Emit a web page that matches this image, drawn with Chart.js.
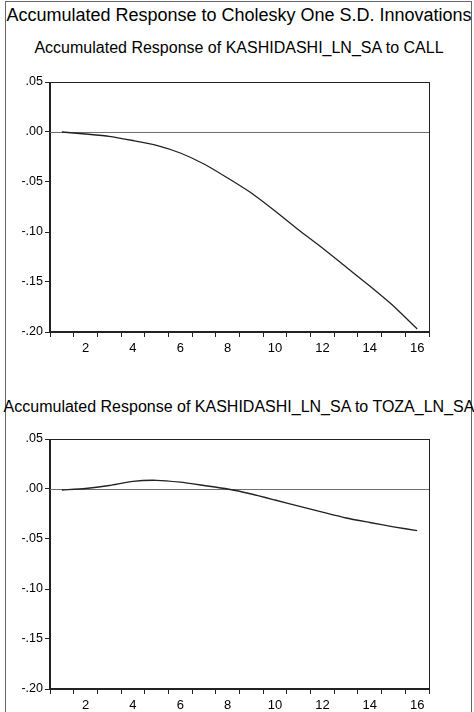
<!DOCTYPE html>
<html>
<head>
<meta charset="utf-8">
<script src="https://cdn.jsdelivr.net/npm/chart.js@4"></script>
<style>
  body { margin: 0; background: #fff; font-family: 'Liberation Sans', Arial, sans-serif; color: #000; }
  #wrap { position: relative; width: 474px; height: 712px; overflow: hidden; }
  #frame { position: absolute; left: 5px; top: 1px; width: 465px; height: 730px; border: 1px solid #666; }
  .title { position: absolute; left: 0; width: 478px; text-align: center; white-space: nowrap; }
  #main { top: 4px; font-size: 18px; line-height: 22px; }
  #sub1 { top: 38px; font-size: 16px; line-height: 20px; }
  #sub2 { top: 397px; font-size: 16px; line-height: 20px; }
  canvas { position: absolute; left: 0; }
</style>
</head>
<body>
<div id="wrap">
  <div id="frame"></div>
  <div class="title" id="main">Accumulated Response to Cholesky One S.D. Innovations</div>
  <div class="title" id="sub1">Accumulated Response of KASHIDASHI_LN_SA to CALL</div>
  <div class="title" id="sub2">Accumulated Response of KASHIDASHI_LN_SA to TOZA_LN_SA</div>
  <div style="position:absolute;left:0;top:70px;width:474px;height:290px"><canvas id="c1"></canvas></div>
  <div style="position:absolute;left:0;top:427px;width:474px;height:285px"><canvas id="c2"></canvas></div>
</div>
<script>
// periods and accumulated responses
const periods = ['1','2','3','4','5','6','7','8','9','10','11','12','13','14','15','16'];
const callResp = [0, -0.002, -0.0043, -0.0085, -0.0133, -0.021, -0.032, -0.046, -0.061, -0.079, -0.098, -0.116, -0.135, -0.154, -0.174, -0.197];
const tozaResp = [-0.001, 0.0005, 0.0035, 0.0077, 0.0087, 0.0068, 0.0035, 0.0, -0.005, -0.011, -0.0172, -0.0232, -0.029, -0.0335, -0.0378, -0.0417];
const yTicks = { min: -0.2, max: 0.05, step: 0.05 };

// box round the plot area + grey zero line
const eviewsFrame = {
  id: 'eviewsFrame',
  beforeDatasetsDraw(chart) {
    const { ctx, chartArea: a, scales: { y } } = chart;
    const zy = Math.round(y.getPixelForValue(0)) + 0.5;
    ctx.save();
    ctx.strokeStyle = '#6e6e6e';
    ctx.lineWidth = 1.2;
    ctx.beginPath();
    ctx.moveTo(a.left, zy);
    ctx.lineTo(a.right, zy);
    ctx.stroke();
    ctx.restore();
  },
  afterDraw(chart) {
    const { ctx, chartArea: a } = chart;
    ctx.save();
    ctx.strokeStyle = '#222';
    ctx.lineWidth = 1;
    ctx.strokeRect(Math.round(a.left) - 0.5, Math.round(a.top) + 0.5, Math.round(a.right - a.left) + 1, Math.round(a.bottom - a.top) - 1);
    ctx.restore();
  }
};

function makeChart(id, values, xHeight) {
  return new Chart(document.getElementById(id), {
    type: 'line',
    data: {
      labels: periods,
      datasets: [{
        data: values,
        borderColor: '#222',
        borderWidth: 1.3,
        pointRadius: 0,
        tension: 0.2,
        fill: false
      }]
    },
    options: {
      responsive: true,
      maintainAspectRatio: false,
      animation: false,
      layout: { padding: { top: 12, right: 45, left: 0, bottom: 0 } },
      plugins: { legend: { display: false }, tooltip: { enabled: false } },
      scales: {
        x: {
          offset: true,
          grid: { offset: true, drawOnChartArea: false, tickLength: 5, color: '#222' },
          border: { color: '#222' },
          ticks: {
            autoSkip: false,
            maxRotation: 0,
            padding: 4,
            color: '#000',
            font: { family: "'Liberation Sans', Arial", size: 13 },
            callback: (v, i) => (i % 2 === 1 ? periods[i] : '')
          },
          afterFit: s => { s.height = xHeight; }
        },
        y: {
          min: yTicks.min,
          max: yTicks.max,
          grid: { drawOnChartArea: false, tickLength: 5, color: '#222' },
          border: { color: '#222' },
          ticks: {
            stepSize: yTicks.step,
            padding: 2,
            color: '#000',
            font: { family: "'Liberation Sans', Arial", size: 12.5 },
            callback: v => Number(v).toFixed(2).replace('0.', '.')
          },
          afterFit: s => { s.width = 50; }
        }
      }
    },
    plugins: [eviewsFrame]
  });
}

makeChart('c1', callResp, 28);
makeChart('c2', tozaResp, 23);
</script>
</body>
</html>
